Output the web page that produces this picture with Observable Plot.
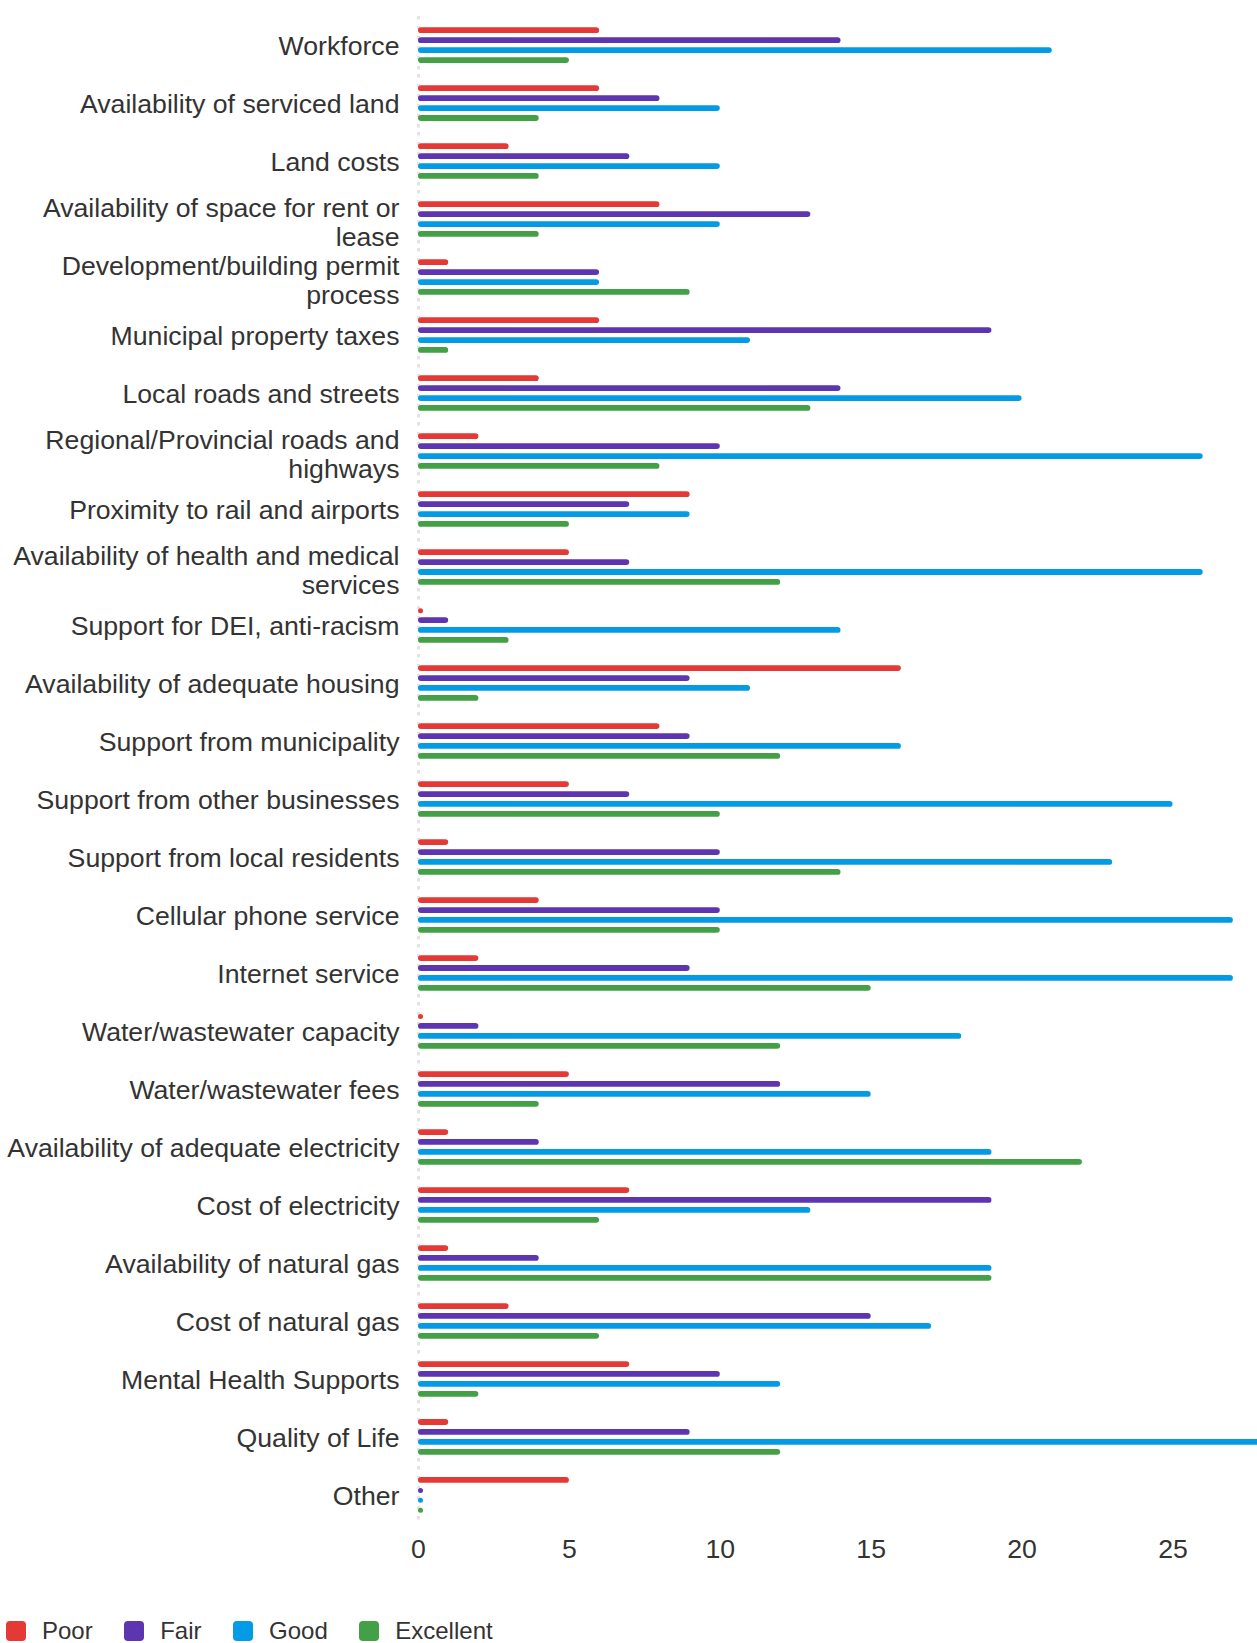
<!DOCTYPE html>
<html>
<head>
<meta charset="utf-8">
<script src="https://cdn.jsdelivr.net/npm/d3@7"></script>
<script src="https://cdn.jsdelivr.net/npm/@observablehq/plot@0.6"></script>
<style>
  html, body { margin: 0; padding: 0; background: #fff; overflow: hidden; }
  body { font-family: "Liberation Sans", Arial, sans-serif; color: #333; }
  #legend { display: flex; align-items: center; height: 63px; box-sizing: border-box; padding: 38px 0 0 6px; font-size: 24px; }
  .item { display: flex; align-items: center; margin-right: 31.5px; }
  .sw { width: 20px; height: 20px; border-radius: 4px; margin-right: 16px; }
</style>
</head>
<body>
<div id="chart"></div>
<div id="legend"></div>
<script>
const categories = [
  "Workforce",
  "Availability of serviced land",
  "Land costs",
  "Availability of space for rent or lease",
  "Development/building permit process",
  "Municipal property taxes",
  "Local roads and streets",
  "Regional/Provincial roads and highways",
  "Proximity to rail and airports",
  "Availability of health and medical services",
  "Support for DEI, anti-racism",
  "Availability of adequate housing",
  "Support from municipality",
  "Support from other businesses",
  "Support from local residents",
  "Cellular phone service",
  "Internet service",
  "Water/wastewater capacity",
  "Water/wastewater fees",
  "Availability of adequate electricity",
  "Cost of electricity",
  "Availability of natural gas",
  "Cost of natural gas",
  "Mental Health Supports",
  "Quality of Life",
  "Other"
];
const categoryLabels = [
  "Workforce",
  "Availability of serviced land",
  "Land costs",
  "Availability of space for rent or\nlease",
  "Development/building permit\nprocess",
  "Municipal property taxes",
  "Local roads and streets",
  "Regional/Provincial roads and\nhighways",
  "Proximity to rail and airports",
  "Availability of health and medical\nservices",
  "Support for DEI, anti-racism",
  "Availability of adequate housing",
  "Support from municipality",
  "Support from other businesses",
  "Support from local residents",
  "Cellular phone service",
  "Internet service",
  "Water/wastewater capacity",
  "Water/wastewater fees",
  "Availability of adequate electricity",
  "Cost of electricity",
  "Availability of natural gas",
  "Cost of natural gas",
  "Mental Health Supports",
  "Quality of Life",
  "Other"
];
const series = ["Poor", "Fair", "Good", "Excellent"];
const poor      = [6, 6, 3, 8, 1, 6, 4, 2, 9, 5, 0, 16, 8, 5, 1, 4, 2, 0, 5, 1, 7, 1, 3, 7, 1, 5];
const fair      = [14, 8, 7, 13, 6, 19, 14, 10, 7, 7, 1, 9, 9, 7, 10, 10, 9, 2, 12, 4, 19, 4, 15, 10, 9, 0];
const good      = [21, 10, 10, 10, 6, 11, 20, 26, 9, 26, 14, 11, 16, 25, 23, 27, 27, 18, 15, 19, 13, 19, 17, 12, 28, 0];
const excellent = [5, 4, 4, 4, 9, 1, 13, 8, 5, 12, 3, 2, 12, 10, 14, 10, 15, 12, 4, 22, 6, 19, 6, 2, 12, 0];
const colors = ["#e53935", "#5e35b1", "#039be5", "#43a047"];
const xTicks = [0, 5, 10, 15, 20, 25];

const valuesBySeries = [poor, fair, good, excellent];
const data = categories.flatMap((c, i) =>
  series.map((s, j) => ({category: c, series: s, value: valuesBySeries[j][i]}))
);
const labelOf = new Map(categories.map((c, i) => [c, categoryLabels[i]]));
const singleLine = categories.filter((c, i) => !categoryLabels[i].includes("\n"));
const multiLine = categories.filter((c, i) => categoryLabels[i].includes("\n"));

const fyAxisOpts = {anchor: "left", tickFormat: c => labelOf.get(c), tickSize: 0, tickPadding: 19, fontSize: 26.67, lineHeight: 1.09, label: null, fill: "#333"};

const chart = Plot.plot({
  width: 1257,
  height: 1580,
  marginLeft: 418,
  marginRight: 0,
  marginTop: 8,
  marginBottom: 48,
  style: {fontFamily: '"Liberation Sans", Arial, sans-serif', fontSize: "26.67px", color: "#333", background: "#fff"},
  x: {domain: [0, 27.8], axis: null},
  fy: {domain: categories, paddingInner: 0, paddingOuter: 0.14, round: false, axis: null},
  y: {domain: series, paddingInner: 0.42, paddingOuter: 1.13, round: false, axis: null},
  color: {domain: series, range: colors},
  marks: [
    Plot.ruleX([0], {stroke: "#e4e4e4", strokeWidth: 3, strokeDasharray: "3.5,6.5"}),
    Plot.barX(data, {x: "value", y: "series", fy: "category", fill: "series", rx: 3, clip: true}),
    Plot.dot(data.filter(d => d.value === 0), {x: "value", y: "series", fy: "category", fill: "series", r: 2.5, dx: 2}),
    Plot.axisX({ticks: xTicks, tickSize: 0, tickPadding: 15, fontSize: 26.67, label: null, fill: "#333"}),
    Plot.axisFy({...fyAxisOpts, ticks: singleLine}),
    Plot.axisFy({...fyAxisOpts, ticks: multiLine, dy: 3})
  ]
});
document.getElementById("chart").appendChild(chart);

const legend = document.getElementById("legend");
series.forEach((s, i) => {
  const item = document.createElement("div");
  item.className = "item";
  const sw = document.createElement("div");
  sw.className = "sw";
  sw.style.background = colors[i];
  const t = document.createElement("span");
  t.textContent = s;
  item.appendChild(sw);
  item.appendChild(t);
  legend.appendChild(item);
});
</script>
</body>
</html>
